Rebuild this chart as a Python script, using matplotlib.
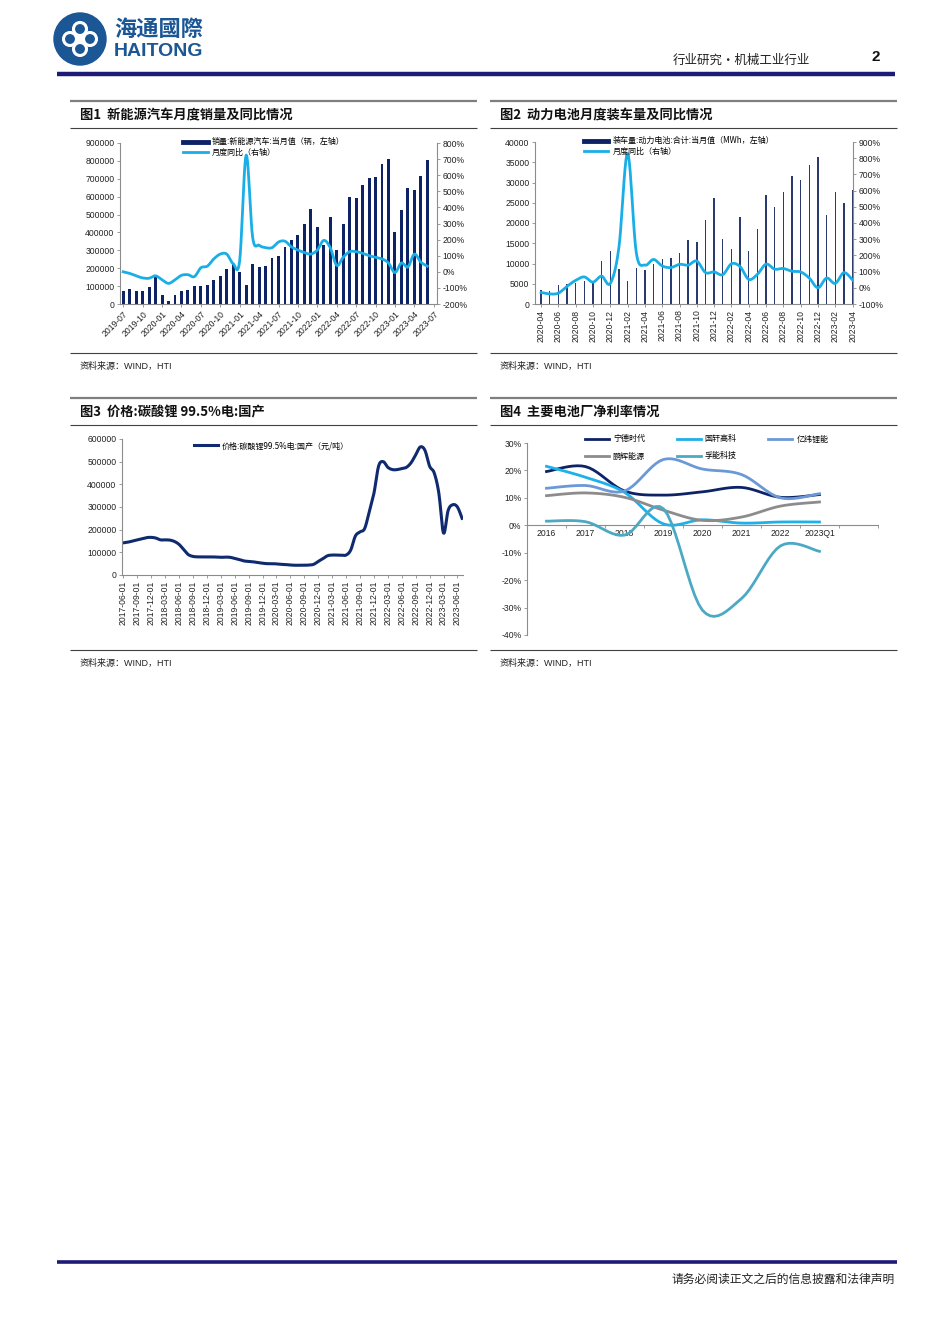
import numpy as np
import pandas as pd
import matplotlib
matplotlib.use("Agg")
import matplotlib.pyplot as plt
from matplotlib.patches import Circle
from matplotlib.ticker import FuncFormatter, MultipleLocator

plt.rcParams['font.family'] = ['Liberation Sans', 'Noto Sans CJK SC', 'DejaVu Sans']
plt.rcParams['axes.unicode_minus'] = False

# %% data -------------------------------------------------------------
# Fig 1: NEV monthly sales (vehicles) and YoY (%), 2019-07 .. 2023-06
nev_months = pd.period_range('2019-07', '2023-07', freq='M').strftime('%Y-%m').tolist()
nev_sales = [75000, 85000, 75000, 72000, 95000, 150000,
             48000, 15000, 52000, 72000, 80000, 102000, 98000, 105000, 135000, 158000, 198000, 225000,
             178000, 108000, 225000, 205000, 215000, 255000, 270000, 320000, 355000, 383000, 450000, 530000,
             430000, 330000, 485000, 300000, 450000, 598000, 593000, 665000, 705000, 710000, 785000, 810000,
             405000, 525000, 650000, 635000, 715000, 805000]
nev_yoy = [0, -10, -25, -38, -40, -25,
           -50, -72, -50, -22, -18, -30, 25, 35, 80, 110, 110, 50,
           70, 725, 215, 165, 150, 150, 185, 190, 155, 135, 120, 110,
           135, 195, 150, 40, 90, 125, 125, 115, 100, 90, 80, 55,
           -5, 55, 30, 110, 60, 35]

# Fig 2: power battery installations (MWh) and YoY (%), 2020-04 .. 2023-04
bat_months = pd.period_range('2020-04', '2023-04', freq='M').strftime('%Y-%m').tolist()
bat_mwh = [3400, 3300, 4600, 4900, 5100, 5800, 5700, 10700, 13000,
           8600, 5600, 9000, 8400, 9800, 11000, 11300, 12600, 15700, 15400, 20700, 26100,
           16100, 13600, 21400, 13200, 18500, 26900, 24000, 27600, 31600, 30500, 34300, 36200,
           22000, 27600, 24900, 28100]
bat_yoy = [-29, -38, -33, 9, 46, 67, 35, 72, 27,
           250, 830, 219, 140, 175, 135, 125, 145, 140, 165, 94, 98,
           81, 148, 131, 52, 83, 146, 115, 119, 102, 98, 60, 0,
           60, 27, 94, 48]

# Fig 3: lithium carbonate 99.5% battery grade, domestic (yuan/t), monthly 2017-06 .. 2023-08
li_months = pd.period_range('2017-06', '2023-08', freq='M').strftime('%Y-%m-01').tolist()
li_price = [142000, 145000, 150000, 155000, 160000, 165000, 166000,
            163000, 155000, 155000, 154000, 148000, 135000, 112000, 90000, 82000, 80000, 80000,
            80000, 80000, 79000, 78000, 79000, 78000, 73000, 68000, 62000, 60000, 58000, 55000,
            52000, 50000, 50000, 49000, 47000, 46000, 44000, 43000, 43000, 43000, 44000, 47000,
            60000, 72000, 85000, 88000, 88000, 88000, 88000, 110000, 172000, 190000, 205000, 280000,
            360000, 480000, 500000, 475000, 465000, 465000, 470000, 475000, 495000, 530000, 565000, 550000,
            480000, 450000, 360000, 185000, 285000, 310000, 300000, 250000]

# Fig 4: net profit margin (%) of battery makers
years = ['2016', '2017', '2018', '2019', '2020', '2021', '2022', '2023Q1']
margin_names = ['宁德时代', '国轩高科', '亿纬锂能', '鹏辉能源', '孚能科技']
catl = [19.6, 21.4, 12.5, 11.0, 12.2, 13.8, 10.2, 11.2]
gotion = [21.5, 17.5, 12.0, 0.5, 2.0, 0.8, 1.2, 1.2]
eve = [13.5, 14.5, 12.5, 24.0, 20.5, 18.5, 10.0, 11.5]
greatpower = [10.8, 11.8, 10.2, 5.5, 1.8, 3.0, 7.0, 8.5]
farasis = [1.5, 1.3, -3.6, 6.0, -31.0, -26.7, -7.5, -9.5]
margin_colors = ['#0E2366', '#1EB0E8', '#6B99D6', '#8C8C8C', '#4BA9C4']

NAVY = '#0E2366'
CYAN = '#1AAEE6'
GRID = '#8C8C8C'
CJK = ['Noto Sans CJK SC', 'DejaVu Sans']


def smooth(x, y, k=10):
    """Catmull-Rom rendering of a series (like Excel smoothed lines)."""
    p = np.column_stack([np.asarray(x, float), np.asarray(y, float)])
    p = np.vstack([p[0], p, p[-1]])
    t = np.linspace(0, 1, k, endpoint=False)[:, None]
    segs = []
    for i in range(1, len(p) - 2):
        p0, p1, p2, p3 = p[i - 1], p[i], p[i + 1], p[i + 2]
        segs.append(0.5 * (2 * p1 + (-p0 + p2) * t + (2 * p0 - 5 * p1 + 4 * p2 - p3) * t ** 2
                           + (-p0 + 3 * p1 - 3 * p2 + p3) * t ** 3))
    segs.append(p[-2][None, :])
    s = np.vstack(segs)
    return s[:, 0], s[:, 1]


def style_axis(ax, right=False):
    for side in ['top', 'right', 'left', 'bottom']:
        ax.spines[side].set_visible(False)
    for side in (['right'] if right else ['left', 'bottom']):
        ax.spines[side].set_visible(True)
        ax.spines[side].set_color(GRID)
        ax.spines[side].set_linewidth(0.8)
    ax.tick_params(labelsize=6.2, colors='#222222', length=2.5, width=0.6, color=GRID, pad=1.5)
    ax.set_facecolor('none')


def legend(ax, handles, labels, anchor, **kw):
    opts = dict(handlelength=3.0, handletextpad=0.5, labelspacing=0.2)
    opts.update(kw)
    return ax.legend(handles, labels, loc='upper left', bbox_to_anchor=anchor, frameon=False,
                     borderaxespad=0, borderpad=0, prop={'family': CJK, 'size': 5.8}, **opts)


W, H = 950, 1344
fig = plt.figure(figsize=(W / 100, H / 100), dpi=100)

# page layer in pixel coordinates
bg = fig.add_axes([0, 0, 1, 1], zorder=-5)
bg.set_xlim(0, W)
bg.set_ylim(H, 0)
bg.axis('off')

# logo
bg.add_patch(Circle((80, 39), 26, color='#1B5695'))
for cx, cy in [(70, 39), (90, 39), (80, 29), (80, 49)]:
    bg.add_patch(Circle((cx, cy), 6.5, fill=False, ec='white', lw=2.2))
bg.add_patch(Circle((80, 39), 3, color='white'))
bg.text(114, 29, '海通國際', fontsize=16, color='#1B5695', fontweight='bold',
        family=CJK, va='center', ha='left')
bg.text(114, 51, 'HAITONG', fontsize=14, color='#1B5695', fontweight='bold', va='center', ha='left')
bg.text(810, 60, '行业研究•机械工业行业', fontsize=9, color='#222222', ha='right', va='center',
        family=CJK)
bg.text(880, 57, '2', fontsize=11, fontweight='bold', color='#111111', ha='right', va='center')
bg.plot([57, 895], [74, 74], color='#1E1A78', lw=3.2, solid_capstyle='butt')

# footer
bg.plot([57, 897], [1262, 1262], color='#1E1A78', lw=2.6, solid_capstyle='butt')
bg.text(895, 1279, '请务必阅读正文之后的信息披露和法律声明', fontsize=8.5, color='#222222',
        ha='right', va='center', family=CJK)

# panel frames
panels = [(70, 477, 101, '图1  新能源汽车月度销量及同比情况'),
          (490, 897, 101, '图2  动力电池月度装车量及同比情况'),
          (70, 477, 398, '图3  价格:碳酸锂 99.5%电:国产'),
          (490, 897, 398, '图4  主要电池厂净利率情况')]
for x0, x1, y0, title in panels:
    bg.plot([x0, x1], [y0, y0], color='#7F7F7F', lw=1.6, solid_capstyle='butt')
    bg.text(x0 + 10, y0 + 14, title, fontsize=9.5, fontweight='bold', color='#111111',
            va='center', ha='left', family=CJK)
    bg.plot([x0, x1], [y0 + 27, y0 + 27], color='#404040', lw=0.8, solid_capstyle='butt')
    bg.plot([x0, x1], [y0 + 252, y0 + 252], color='#404040', lw=0.8, solid_capstyle='butt')
    bg.text(x0 + 10, y0 + 265, '资料来源：WIND，HTI', fontsize=6.5, color='#222222',
            va='center', ha='left')


def frac(left, right, top, bottom):
    return [left / W, 1 - bottom / H, (right - left) / W, (bottom - top) / H]


pct = FuncFormatter(lambda v, _: f'{v:.0f}%')

# %% Fig 1 ---------------------------------------------------------------
ax1 = fig.add_axes(frac(120, 437, 143, 304))
x1 = np.arange(len(nev_sales))
ax1.bar(x1, nev_sales, width=0.45, color=NAVY)
ax1.set_ylim(0, 900000)
ax1.yaxis.set_major_locator(MultipleLocator(100000))
ax1.set_xlim(-0.5, len(nev_months) - 0.5)
ax1.set_xticks(range(0, len(nev_months), 3))
ax1.set_xticklabels(nev_months[::3], rotation=45, ha='right', rotation_mode='anchor')
style_axis(ax1)
ax1r = ax1.twinx()
sx, sy = smooth(x1, nev_yoy)
line1, = ax1r.plot(sx, sy, color=CYAN, lw=2.0)
ax1r.set_ylim(-200, 800)
ax1r.yaxis.set_major_locator(MultipleLocator(100))
ax1r.yaxis.set_major_formatter(pct)
style_axis(ax1r, right=True)
legend(ax1r, [plt.Line2D([], [], color=NAVY, lw=3.5), line1],
       ['销量:新能源汽车:当月值（辆，左轴）', '月度同比（右轴）'], (0.2, 1.035))

# %% Fig 2 ---------------------------------------------------------------
ax2 = fig.add_axes(frac(535, 853, 142, 304))
x2 = np.arange(len(bat_mwh))
ax2.bar(x2, bat_mwh, width=0.16, color='#2B3A6E')
ax2.set_ylim(0, 40000)
ax2.yaxis.set_major_locator(MultipleLocator(5000))
ax2.set_xlim(-0.7, len(bat_mwh) - 0.95)
ax2.set_xticks(range(0, len(bat_months), 2))
ax2.set_xticklabels(bat_months[::2], rotation=90)
style_axis(ax2)
ax2r = ax2.twinx()
sx, sy = smooth(x2, bat_yoy)
line2, = ax2r.plot(sx, sy, color=CYAN, lw=2.0)
ax2r.set_ylim(-100, 900)
ax2r.yaxis.set_major_locator(MultipleLocator(100))
ax2r.yaxis.set_major_formatter(pct)
style_axis(ax2r, right=True)
legend(ax2r, [plt.Line2D([], [], color=NAVY, lw=3.5), line2],
       ['装车量:动力电池:合计:当月值（MWh，左轴）', '月度同比（右轴）'], (0.155, 1.035))

# %% Fig 3 ---------------------------------------------------------------
ax3 = fig.add_axes(frac(122, 463, 439, 575))
x3 = np.arange(len(li_price))
sx, sy = smooth(x3, li_price)
line3, = ax3.plot(sx, sy, color='#0F2A6E', lw=2.2)
ax3.set_ylim(0, 600000)
ax3.yaxis.set_major_locator(MultipleLocator(100000))
ax3.set_xlim(-0.3, len(li_price) - 0.8)
ax3.set_xticks(range(0, len(li_months), 3))
ax3.set_xticklabels(li_months[::3], rotation=90)
style_axis(ax3)
legend(ax3, [line3], ['价格:碳酸锂99.5%电:国产（元/吨）'], (0.21, 0.985))

# %% Fig 4 ---------------------------------------------------------------
ax4 = fig.add_axes(frac(527, 878, 443, 635))
x4 = np.arange(len(years))
lines4 = []
for vals, col in zip([catl, gotion, eve, greatpower, farasis], margin_colors):
    sx, sy = smooth(x4, vals)
    ln, = ax4.plot(sx, sy, color=col, lw=2.0)
    lines4.append(ln)
ax4.set_ylim(-40, 30)
ax4.yaxis.set_major_locator(MultipleLocator(10))
ax4.yaxis.set_major_formatter(pct)
ax4.set_xlim(-0.5, 8.5)
ax4.set_xticks(x4)
ax4.set_xticklabels(years)
style_axis(ax4)
ax4.spines['bottom'].set_position(('data', 0))
ax4.tick_params(axis='x', length=0, pad=3)
ax4.set_xticks(np.arange(-0.5, 9, 1), minor=True)
ax4.tick_params(axis='x', which='minor', length=2.5, color=GRID, width=0.6)
# legend filled row by row: 3 on the first row, 2 on the second
order = [0, 3, 1, 4, 2]
legend(ax4, [lines4[i] for i in order], [margin_names[i] for i in order], (0.165, 1.045),
       ncol=3, columnspacing=3.9, labelspacing=1.0)

fig.savefig('out.png', dpi=100, facecolor='white')
